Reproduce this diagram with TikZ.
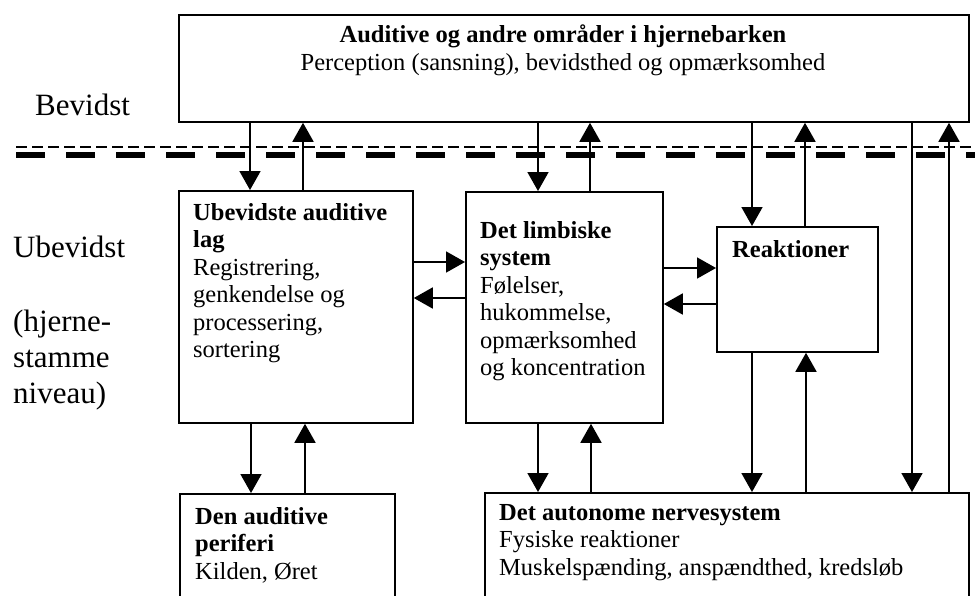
\documentclass[tikz,border=0pt]{standalone}
\usepackage{fontspec}
\setmainfont{Liberation Serif}
\usetikzlibrary{arrows.meta}
\begin{document}
\begin{tikzpicture}[x=1pt,y=-1pt,
  box/.style={draw, line width=1.8pt, inner sep=0pt, anchor=north west},
  arr/.style={line width=1.8pt, -{Triangle[width=21pt,length=19pt]}},
  txt/.style={inner sep=0pt, anchor=base west, font=\fontsize{24.5}{27.5}\selectfont},
  ctxt/.style={inner sep=0pt, anchor=base, font=\fontsize{24.5}{27.5}\selectfont},
  side/.style={inner sep=0pt, anchor=base west, font=\fontsize{31}{36}\selectfont},
  thin dash/.style={line width=2pt, dash pattern=on 11pt off 5pt},
  thick dash/.style={line width=6pt, dash pattern=on 29pt off 21pt}]
\useasboundingbox (0,0) rectangle (975,595);

% boxes
\node[box, minimum width=790, minimum height=107] (top) at (178,14) {};
\node[box, minimum width=234, minimum height=232] (ubev) at (178,190) {};
\node[box, minimum width=197, minimum height=231] (limb) at (465,191) {};
\node[box, minimum width=161, minimum height=125] (reak) at (716,226) {};
\node[box, minimum width=215, minimum height=130] (peri) at (179,493) {};
\node[box, minimum width=484, minimum height=130] (auto) at (484,492) {};

% texts
\node[ctxt] (toptitle) at (563,42) {\bfseries Auditive og andre områder i hjernebarken};
\node[ctxt] (topsub) at (563,70) {Perception (sansning), bevidsthed og opmærksomhed};
\node[txt] (ubevtxt) at (193,220) {\vtop{\hbox{\bfseries Ubevidste auditive}\hbox{\bfseries lag}\hbox{Registrering,}\hbox{genkendelse og}\hbox{processering,}\hbox{sortering}}};
\node[txt] (limbtxt) at (480,238) {\vtop{\hbox{\bfseries Det limbiske}\hbox{\bfseries system}\hbox{Følelser,}\hbox{hukommelse,}\hbox{opmærksomhed}\hbox{og koncentration}}};
\node[txt] (reaktxt) at (732,257) {\bfseries Reaktioner};
\node[txt] (peritxt) at (195,524) {\vtop{\hbox{\bfseries Den auditive}\hbox{\bfseries periferi}\hbox{Kilden, Øret}}};
\node[txt] (autotxt) at (499,520) {\vtop{\hbox{\bfseries Det autonome nervesystem}\hbox{Fysiske reaktioner}\hbox{Muskelspænding, anspændthed, kredsløb}}};

% side labels
\node[side] (bev) at (35,115) {Bevidst};
\node[side] (ubevlbl) at (13,257) {Ubevidst};
\node[side] (hjerne) at (13,331) {\vtop{\hbox{(hjerne-}\hbox{stamme}\hbox{niveau)}}};

% dashed separators
\coordinate (dl1) at (16,147); \coordinate (dr1) at (975,147);
\coordinate (dl2) at (16,155); \coordinate (dr2) at (975,155);
\draw[thin dash] (dl1) -- (dr1);
\draw[thick dash] (dl2) -- (dr2);

% helper x positions
\foreach \x in {250,251,303,305,538,590,591,752,805,806,912,949}
  \coordinate (v\x) at (\x,0);
\foreach \y in {262,268,298,304}
  \coordinate (h\y) at (0,\y);

% vertical connectors
\draw[arr] (top.south -| v250) -- (ubev.north -| v250);
\draw[arr] (ubev.north -| v303) -- (top.south -| v303);
\draw[arr] (top.south -| v538) -- (limb.north -| v538);
\draw[arr] (limb.north -| v590) -- (top.south -| v590);
\draw[arr] (top.south -| v752) -- (reak.north -| v752);
\draw[arr] (reak.north -| v805) -- (top.south -| v805);
\draw[arr] (top.south -| v912) -- (auto.north -| v912);
\draw[arr] (auto.north -| v949) -- (top.south -| v949);
\draw[arr] (ubev.south -| v251) -- (peri.north -| v251);
\draw[arr] (peri.north -| v305) -- (ubev.south -| v305);
\draw[arr] (limb.south -| v538) -- (auto.north -| v538);
\draw[arr] (auto.north -| v591) -- (limb.south -| v591);
\draw[arr] (reak.south -| v752) -- (auto.north -| v752);
\draw[arr] (auto.north -| v806) -- (reak.south -| v806);

% horizontal connectors
\draw[arr] (ubev.east |- h262) -- (limb.west |- h262);
\draw[arr] (limb.west |- h298) -- (ubev.east |- h298);
\draw[arr] (limb.east |- h268) -- (reak.west |- h268);
\draw[arr] (reak.west |- h304) -- (limb.east |- h304);
\end{tikzpicture}
\end{document}
